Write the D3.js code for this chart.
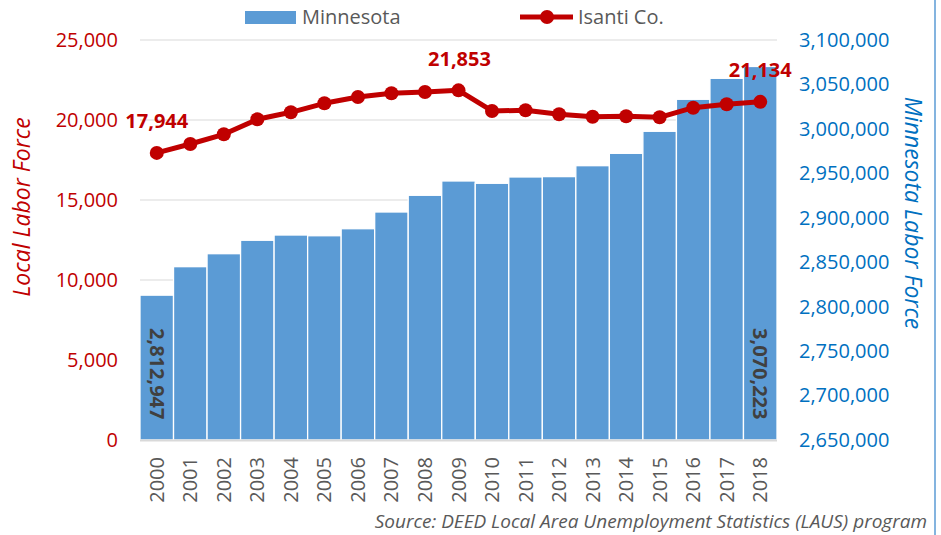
<!DOCTYPE html>
<html lang="en">
<head>
<meta charset="UTF-8">
<title>Labor Force</title>
<script src="https://cdn.jsdelivr.net/npm/d3@7"></script>
<style>
  body { margin: 0; background: #fff; }
  text { font-family: "Open Sans", Lato, sans-serif; }
</style>
</head>
<body>
<div id="chart"></div>
<script>
// data
const years = ["2000","2001","2002","2003","2004","2005","2006","2007","2008","2009",
               "2010","2011","2012","2013","2014","2015","2016","2017","2018"];
const minnesota = [2812947, 2845000, 2859600, 2874700, 2880600, 2879800, 2887700, 2906500, 2925300, 2941400,
                   2938800, 2945900, 2946300, 2958600, 2972500, 2997300, 3033300, 3056900, 3070223];
const isanti = [17944, 18500, 19106, 20044, 20481, 21044, 21438, 21669, 21750, 21853,
                20563, 20606, 20356, 20206, 20231, 20169, 20769, 20981, 21134];
const leftTicks = [0, 5000, 10000, 15000, 20000, 25000];
const rightTicks = [2650000, 2700000, 2750000, 2800000, 2850000, 2900000, 2950000, 3000000, 3050000, 3100000];

const W = 941, H = 535;
const red = "#C00000", blue = "#0070C0", barColor = "#5B9BD5", grey = "#595959";
const font = "'Open Sans', Lato, sans-serif";

const svg = d3.select("#chart").append("svg").attr("width", W).attr("height", H);

const x = d3.scaleBand().domain(years).range([140, 777]).padding(0);
const yL = d3.scaleLinear().domain([0, 25000]).range([440, 40]);
const yR = d3.scaleLinear().domain([2650000, 3100000]).range([440, 40]);
const fmt = d3.format(",");

// gridlines
svg.append("g")
    .selectAll("line")
    .data(leftTicks.slice(1))
    .join("line")
    .attr("x1", 140).attr("x2", 777)
    .attr("y1", d => yL(d)).attr("y2", d => yL(d))
    .attr("stroke", "#D9D9D9").attr("stroke-width", 1);

// bars
svg.append("g")
    .selectAll("rect")
    .data(years)
    .join("rect")
    .attr("x", d => x(d))
    .attr("width", x.bandwidth())
    .attr("y", (d, i) => yR(minnesota[i]))
    .attr("height", (d, i) => yR.range()[0] - yR(minnesota[i]))
    .attr("fill", barColor)
    .attr("stroke", "#fff").attr("stroke-width", 1.3);

// bottom axis line
svg.append("line")
    .attr("x1", 140).attr("x2", 777).attr("y1", 440.5).attr("y2", 440.5)
    .attr("stroke", "#D9D9D9").attr("stroke-width", 2);

// bar labels for first and last
[0, years.length - 1].forEach(i => {
    const cx = x(years[i]) + x.bandwidth() / 2;
    svg.append("text")
        .attr("transform", `translate(${cx},328) rotate(90)`)
        .attr("dy", "0.35em")
        .attr("font-size", 20).attr("font-weight", "bold")
        .attr("fill", "#404040")
        .text(fmt(minnesota[i]));
});

// left axis
const axL = svg.append("g").attr("transform", "translate(118,0)")
    .call(d3.axisLeft(yL).tickValues(leftTicks).tickFormat(fmt).tickSize(0).tickPadding(0));
axL.select(".domain").remove();
axL.selectAll("text").attr("fill", red).attr("font-size", 20).style("font-family", font);

// right axis
const axR = svg.append("g").attr("transform", "translate(799,0)")
    .call(d3.axisRight(yR).tickValues(rightTicks).tickFormat(fmt).tickSize(0).tickPadding(0));
axR.select(".domain").remove();
axR.selectAll("text").attr("fill", blue).attr("font-size", 20).style("font-family", font);

// x axis (rotated years)
const axX = svg.append("g").attr("transform", "translate(0,440)")
    .call(d3.axisBottom(x).tickSize(0).tickPadding(0));
axX.select(".domain").remove();
axX.selectAll("text")
    .attr("transform", "translate(0,17) rotate(-90)")
    .attr("text-anchor", "end")
    .attr("x", 0).attr("y", 0).attr("dy", "0.35em")
    .attr("fill", grey).attr("font-size", 20).style("font-family", font);

// axis titles
svg.append("text")
    .attr("transform", "translate(22,207) rotate(-90)")
    .attr("text-anchor", "middle").attr("dy", "0.35em")
    .attr("font-size", 23).attr("font-style", "italic").attr("fill", red)
    .text("Local Labor Force");
svg.append("text")
    .attr("transform", "translate(913,213) rotate(90)")
    .attr("text-anchor", "middle").attr("dy", "0.35em")
    .attr("font-size", 23).attr("font-style", "italic").attr("fill", blue)
    .text("Minnesota Labor Force");

// Isanti line
const line = d3.line()
    .x((d, i) => x(years[i]) + x.bandwidth() / 2)
    .y(d => yL(d));
svg.append("path")
    .datum(isanti)
    .attr("d", line)
    .attr("fill", "none").attr("stroke", red).attr("stroke-width", 5)
    .attr("stroke-linejoin", "round");
svg.append("g")
    .selectAll("circle")
    .data(isanti)
    .join("circle")
    .attr("cx", (d, i) => x(years[i]) + x.bandwidth() / 2)
    .attr("cy", d => yL(d))
    .attr("r", 7)
    .attr("fill", red);

// line labels
const lineLabels = [
    { i: 0, dx: 0, dy: -32 },
    { i: 9, dx: 1, dy: -31 },
    { i: 18, dx: 0, dy: -32 }
];
lineLabels.forEach(l => {
    svg.append("text")
        .attr("x", x(years[l.i]) + x.bandwidth() / 2 + l.dx)
        .attr("y", yL(isanti[l.i]) + l.dy)
        .attr("text-anchor", "middle").attr("dy", "0.35em")
        .attr("font-size", 20).attr("font-weight", "bold").attr("fill", red)
        .text(fmt(isanti[l.i]));
});

// legend
const leg = svg.append("g");
leg.append("rect").attr("x", 245).attr("y", 11).attr("width", 51).attr("height", 13).attr("fill", barColor);
leg.append("text").attr("x", 302).attr("y", 17).attr("dy", "0.35em")
    .attr("font-size", 20).attr("fill", grey).text("Minnesota");
leg.append("line").attr("x1", 520).attr("x2", 573).attr("y1", 17).attr("y2", 17)
    .attr("stroke", red).attr("stroke-width", 5);
leg.append("circle").attr("cx", 547).attr("cy", 17).attr("r", 7).attr("fill", red);
leg.append("text").attr("x", 578).attr("y", 17).attr("dy", "0.35em")
    .attr("font-size", 20).attr("fill", grey).text("Isanti Co.");

// source
svg.append("text")
    .attr("x", 927).attr("y", 521).attr("text-anchor", "end").attr("dy", "0.35em")
    .attr("font-size", 19).attr("font-style", "italic").attr("fill", grey)
    .text("Source: DEED Local Area Unemployment Statistics (LAUS) program");

// right border
svg.append("line").attr("x1", 935).attr("x2", 935).attr("y1", 0).attr("y2", H)
    .attr("stroke", "#5B9BD5").attr("stroke-width", 1.5);
</script>
</body>
</html>
